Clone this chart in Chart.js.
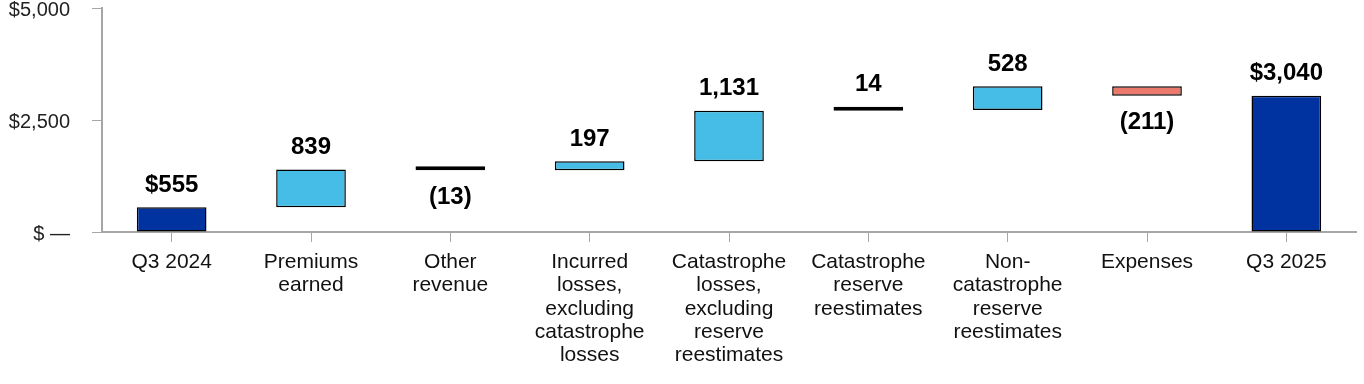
<!DOCTYPE html>
<html lang="en">
<head>
    <meta charset="UTF-8">
    <title>Waterfall Q3 2024 to Q3 2025</title>
    <script src="https://cdn.jsdelivr.net/npm/chart.js"></script>
    <style>
        html, body { margin: 0; padding: 0; background: #fff; }
        #wrap { width: 1364px; height: 384px; }
    </style>
</head>
<body>
    <div id="wrap"><canvas id="myChart" width="1364" height="384"></canvas></div>

    <script>
        // categories and values
        const categories = [
            ['Q3 2024'],
            ['Premiums', 'earned'],
            ['Other', 'revenue'],
            ['Incurred', 'losses,', 'excluding', 'catastrophe', 'losses'],
            ['Catastrophe', 'losses,', 'excluding', 'reserve', 'reestimates'],
            ['Catastrophe', 'reserve', 'reestimates'],
            ['Non-', 'catastrophe', 'reserve', 'reestimates'],
            ['Expenses'],
            ['Q3 2025']
        ];
        const startTotal = 555;
        const changes = [839, -13, 197, 1131, 14, 528, -211];
        const endTotal = 3040;
        const valueLabels = ['$555', '839', '(13)', '197', '1,131', '14', '528', '(211)', '$3,040'];
        const yTicks = [0, 2500, 5000];

        const barColors = ['#0033a0', '#45bde6', '#000000', '#45bde6', '#45bde6', '#000000', '#45bde6', '#ec7a6c', '#0033a0'];
        const barBorders = [1.5, 1.5, 2, 1.5, 1.5, 2, 1.5, 1.5, 1.5];

        // floating bars [from, to]
        const bars = [[0, startTotal]];
        let running = startTotal;
        changes.forEach(c => {
            bars.push([running, running + c]);
            running += c;
        });
        bars.push([0, endTotal]);

        const labelPlugin = {
            id: 'valueLabels',
            afterDatasetsDraw(chart) {
                const ctx = chart.ctx;
                const meta = chart.getDatasetMeta(0);
                ctx.save();
                ctx.font = 'bold 24px "Liberation Sans", Arial, sans-serif';
                ctx.fillStyle = '#000';
                ctx.textAlign = 'center';
                ctx.textBaseline = 'middle';
                meta.data.forEach((bar, i) => {
                    const top = Math.min(bar.y, bar.base);
                    const bottom = Math.max(bar.y, bar.base);
                    const isNeg = i > 0 && i < bars.length - 1 && changes[i - 1] < 0;
                    const y = isNeg ? bottom + 27 : top - 22;
                    ctx.fillText(valueLabels[i], bar.x, y);
                });
                ctx.restore();
            }
        };

        const axisGrey = '#a6a6a6';
        const font = '"Liberation Sans", Arial, sans-serif';

        new Chart(document.getElementById('myChart'), {
            type: 'bar',
            data: {
                labels: categories,
                datasets: [{
                    data: bars,
                    backgroundColor: barColors,
                    borderColor: '#000',
                    borderWidth: barBorders,
                    borderSkipped: false,
                    minBarLength: 4,
                    barPercentage: 0.5,
                    categoryPercentage: 1.0
                }]
            },
            options: {
                responsive: false,
                animation: false,
                layout: { padding: { left: 0, right: 8, top: 8, bottom: 0 } },
                plugins: {
                    legend: { display: false },
                    tooltip: { enabled: false }
                },
                scales: {
                    x: {
                        offset: true,
                        grid: {
                            display: true,
                            drawOnChartArea: false,
                            drawTicks: true,
                            tickLength: 10,
                            offset: false,
                            color: axisGrey
                        },
                        border: { display: true, color: axisGrey, width: 2 },
                        ticks: {
                            color: '#111',
                            padding: 9,
                            maxRotation: 0,
                            autoSkip: false,
                            font: { family: font, size: 21, lineHeight: 1.1 }
                        },
                        afterFit(scale) { scale.height = 152; }
                    },
                    y: {
                        min: 0,
                        max: 5000,
                        afterBuildTicks(scale) {
                            scale.ticks = yTicks.map(v => ({ value: v }));
                        },
                        grid: {
                            display: true,
                            drawOnChartArea: false,
                            drawTicks: true,
                            tickLength: 10,
                            color: axisGrey
                        },
                        border: { display: true, color: axisGrey, width: 2 },
                        ticks: {
                            color: '#222',
                            padding: 22,
                            labelOffset: 2,
                            font: { family: font, size: 20 },
                            callback: v => v === 0 ? '$ \u2014' : '$' + v.toLocaleString('en-US')
                        },
                        afterFit(scale) {
                            scale.width = 102;
                            scale.paddingTop = 0;
                            scale.paddingBottom = 0;
                        }
                    }
                }
            },
            plugins: [labelPlugin]
        });
    </script>
</body>
</html>
